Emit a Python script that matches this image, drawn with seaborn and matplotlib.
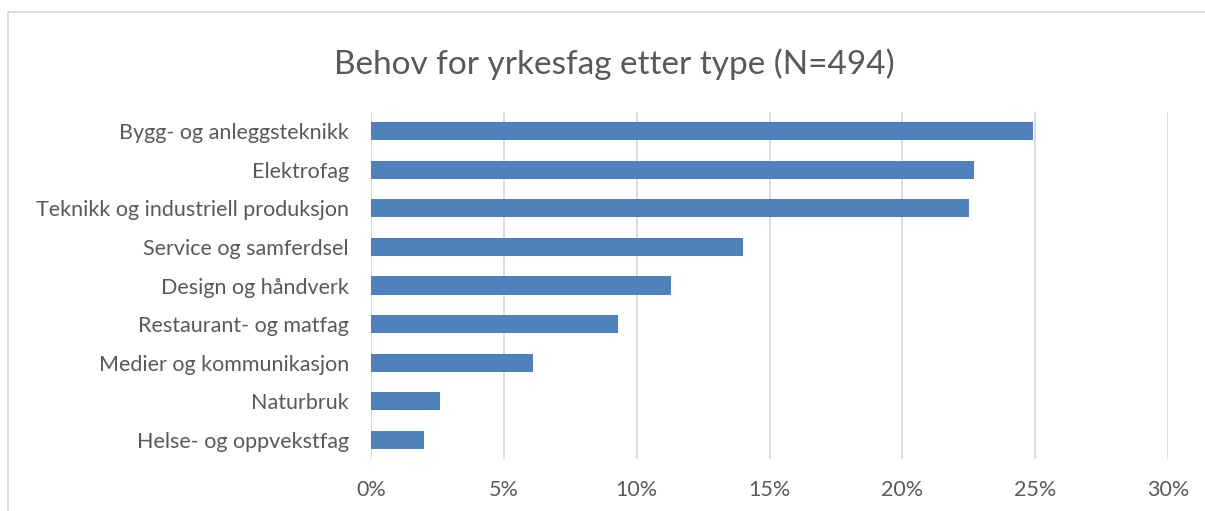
import matplotlib
matplotlib.use("Agg")
import matplotlib.pyplot as plt
import seaborn as sns
import pandas as pd
from matplotlib.lines import Line2D
from matplotlib.ticker import FuncFormatter

categories = [
    "Bygg- og anleggsteknikk",
    "Elektrofag",
    "Teknikk og industriell produksjon",
    "Service og samferdsel",
    "Design og håndverk",
    "Restaurant- og matfag",
    "Medier og kommunikasjon",
    "Naturbruk",
    "Helse- og oppvekstfag",
]
values = [24.9, 22.7, 22.5, 14.0, 11.3, 9.3, 6.1, 2.6, 2.0]
x_ticks = [0, 5, 10, 15, 20, 25, 30]
title = "Behov for yrkesfag etter type (N=494)"

sns.set_theme(style="white")
plt.rcParams["font.family"] = ["Lato", "DejaVu Sans"]

TXT = "#595959"
GRID = "#D9D9D9"
BAR = "#4F81BD"

fig = plt.figure(figsize=(12.05, 5.11), dpi=100)
ax = fig.add_axes([371 / 1205, 1 - 459 / 511, (1168 - 371) / 1205, (459 - 112) / 511])

df = pd.DataFrame({"cat": categories, "val": values})
sns.barplot(data=df, y="cat", x="val", orient="h", color=BAR, width=0.47,
            saturation=1, ax=ax, edgecolor="none")

ax.set_xlim(0, 30)
ax.set_ylim(len(categories) - 0.5, -0.5)
ax.set_xticks(x_ticks)
ax.xaxis.set_major_formatter(FuncFormatter(lambda v, p: f"{v:.0f}%"))
ax.grid(axis="x", color=GRID, linewidth=1.3)
ax.grid(axis="y", visible=False)
ax.set_axisbelow(True)
for s in ax.spines.values():
    s.set_visible(False)
ax.set_xlabel("")
ax.set_ylabel("")
ax.tick_params(axis="y", length=0, pad=16, labelsize=15.5, labelcolor=TXT)
ax.tick_params(axis="x", length=0, pad=15, labelsize=15.5, labelcolor=TXT)

fig.text(614 / 1205, 1 - 64 / 511, title, ha="center", va="center",
         fontsize=24, color=TXT)

# outer chart border (top and left visible)
fig.add_artist(Line2D([8 / 1205, 1.0], [1 - 12.5 / 511, 1 - 12.5 / 511], transform=fig.transFigure,
                      color=GRID, linewidth=1.3))
fig.add_artist(Line2D([8 / 1205, 8 / 1205], [0.0, 1 - 12.5 / 511], transform=fig.transFigure,
                      color=GRID, linewidth=1.3))

fig.savefig("out.png", dpi=100, facecolor="white")
